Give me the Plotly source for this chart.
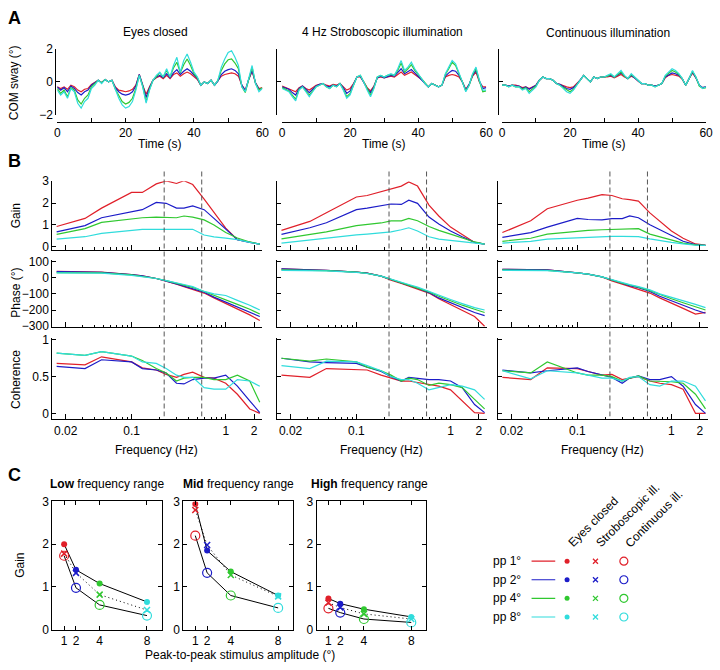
import plotly.graph_objects as go

W, H = 720, 670
FONT = "Liberation Sans, Arial, sans-serif"
FS = 12

# ======================= DATA =======================
amplitude_labels = ["pp 1°", "pp 2°", "pp 4°", "pp 8°"]
amplitude_deg = [1, 2, 4, 8]
condition_titles = ["Eyes closed", "4 Hz Stroboscopic illumination", "Continuous illumination"]
condition_short = ["Eyes closed", "Stroboscopic ill.", "Continuous ill."]
range_titles = ["<b>Low</b> frequency range", "<b>Mid</b> frequency range", "<b>High</b> frequency range"]

# ---- Panel A: COM sway (deg) sampled every second, 0..60 s ----
time_s = list(range(61))

sway_ec_pp1 = [-0.3, -0.4, -0.3, -0.45, -0.2, -0.3, -0.5, -0.6, -0.45, -0.4,
               -0.15, 0.0, 0.1, -0.05, 0.15, 0.0, 0.1, -0.3, -0.5, -0.55,
               -0.6, -0.55, -0.45, -0.2, 0.45, -0.2, -0.75, -0.3, 0.1, 0.25,
               0.35, 0.2, 0.4, 0.2, 0.45, 0.55, 0.35, 0.5, 0.6, 0.5,
               0.3, 0.15, -0.2, 0.0, -0.1, 0.1, -0.2, 0.05, 0.35, 0.45,
               0.5, 0.55, 0.5, 0.35, -0.2, -0.5, 0.15, 0.65, -0.05, -0.4,
               -0.35]
sway_ec_pp2 = [-0.3, -0.5, -0.35, -0.6, -0.25, -0.4, -0.65, -0.8, -0.6, -0.5,
               -0.2, -0.05, 0.1, -0.05, 0.15, 0.0, 0.1, -0.35, -0.6, -0.75,
               -0.8, -0.75, -0.6, -0.25, 0.45, -0.2, -0.95, -0.35, 0.1, 0.3,
               0.4, 0.25, 0.5, 0.25, 0.55, 0.75, 0.45, 0.65, 0.8, 0.65,
               0.4, 0.2, -0.2, 0.0, -0.1, 0.1, -0.2, 0.05, 0.45, 0.65,
               0.75, 0.8, 0.7, 0.5, -0.2, -0.55, 0.15, 0.7, -0.05, -0.45,
               -0.4]
sway_ec_pp4 = [-0.4, -0.7, -0.5, -0.9, -0.35, -0.5, -1.1, -1.35, -1.0, -0.8,
               -0.3, -0.1, 0.1, -0.05, 0.15, 0.0, 0.1, -0.45, -0.85, -1.2,
               -1.35, -1.25, -1.0, -0.4, 0.4, -0.25, -1.2, -0.45, 0.1, 0.35,
               0.55, 0.3, 0.7, 0.3, 0.85, 1.2, 0.55, 1.05, 1.4, 1.0,
               0.5, 0.25, -0.2, 0.0, -0.1, 0.1, -0.2, 0.1, 0.7, 1.1,
               1.35, 1.4, 1.15, 0.8, -0.3, -0.65, 0.15, 0.9, -0.1, -0.5,
               -0.35]
sway_ec_pp8 = [-0.5, -0.8, -0.6, -1.0, -0.4, -0.6, -1.3, -1.6, -1.2, -1.0,
               -0.4, -0.2, 0.1, -0.1, 0.15, 0.0, 0.1, -0.5, -1.0, -1.4,
               -1.6, -1.5, -1.2, -0.5, 0.4, -0.3, -1.3, -0.5, 0.1, 0.4,
               0.6, 0.3, 0.8, 0.3, 1.0, 1.5, 0.6, 1.3, 1.7, 1.2,
               0.6, 0.3, -0.2, 0.0, -0.1, 0.1, -0.2, 0.1, 0.9, 1.4,
               1.8, 1.9, 1.5, 1.0, -0.3, -0.6, 0.2, 1.0, -0.1, -0.6,
               -0.4]

sway_st_pp1 = [-0.25, -0.35, -0.4, -0.5, -0.6, -0.35, -0.25, -0.4, -0.5, -0.35,
               -0.2, -0.15, -0.1, -0.2, -0.25, -0.15, -0.2, -0.1, -0.3, -0.5,
               -0.4, -0.1, 0.3, 0.3, 0.0, -0.35, -0.55, -0.25, 0.25, 0.3,
               0.25, 0.3, 0.35, 0.3, 0.45, 0.6, 0.4, 0.5, 0.6, 0.45,
               0.3, 0.15, -0.1, -0.3, -0.1, -0.2, -0.3, -0.2, 0.3, 0.4,
               0.45, 0.4, 0.3, 0.0, -0.45, -0.15, 0.35, 0.6, 0.0, -0.3,
               -0.3]
sway_st_pp2 = [-0.3, -0.4, -0.45, -0.65, -0.8, -0.4, -0.25, -0.45, -0.65, -0.45,
               -0.25, -0.15, -0.1, -0.25, -0.3, -0.2, -0.25, -0.1, -0.35, -0.7,
               -0.55, -0.15, 0.3, 0.35, 0.0, -0.4, -0.65, -0.3, 0.25, 0.35,
               0.25, 0.35, 0.4, 0.35, 0.55, 0.8, 0.5, 0.6, 0.75, 0.55,
               0.35, 0.15, -0.1, -0.3, -0.1, -0.2, -0.3, -0.2, 0.35, 0.55,
               0.7, 0.65, 0.4, 0.0, -0.5, -0.15, 0.4, 0.7, 0.05, -0.4,
               -0.35]
sway_st_pp4 = [-0.35, -0.45, -0.55, -0.8, -1.05, -0.45, -0.3, -0.55, -0.8, -0.55,
               -0.3, -0.2, -0.1, -0.3, -0.4, -0.2, -0.3, -0.1, -0.45, -0.9,
               -0.7, -0.2, 0.3, 0.4, 0.0, -0.45, -0.8, -0.35, 0.3, 0.4,
               0.3, 0.4, 0.45, 0.4, 0.7, 1.15, 0.6, 0.8, 1.05, 0.7,
               0.45, 0.2, -0.1, -0.3, -0.1, -0.2, -0.3, -0.2, 0.45, 0.8,
               1.2, 1.0, 0.55, 0.0, -0.55, -0.2, 0.45, 0.8, 0.05, -0.6,
               -0.55]
sway_st_pp8 = [-0.4, -0.5, -0.6, -0.9, -1.15, -0.5, -0.3, -0.6, -0.9, -0.6,
               -0.3, -0.2, -0.1, -0.3, -0.4, -0.2, -0.3, -0.1, -0.5, -1.0,
               -0.8, -0.2, 0.3, 0.4, 0.0, -0.5, -0.9, -0.4, 0.3, 0.4,
               0.3, 0.4, 0.5, 0.4, 0.8, 1.3, 0.7, 0.9, 1.2, 0.8,
               0.5, 0.2, -0.1, -0.3, -0.1, -0.2, -0.3, -0.2, 0.5, 0.9,
               1.3, 1.1, 0.6, 0.0, -0.6, -0.2, 0.5, 0.9, 0.1, -0.5,
               -0.5]

sway_ci_pp1 = [-0.2, -0.2, -0.25, -0.2, -0.2, -0.25, -0.35, -0.3, -0.4, -0.3,
               -0.2, 0.1, 0.3, 0.2, 0.2, 0.1, -0.1, -0.15, -0.25, -0.3,
               -0.35, -0.3, -0.1, 0.1, 0.4, 0.2, 0.0, 0.3, 0.2, 0.3,
               0.3, 0.3, 0.35, 0.25, 0.35, 0.45, 0.3, 0.2, 0.35, 0.25,
               0.05, -0.1, -0.1, -0.2, -0.2, -0.25, -0.2, -0.1, 0.25, 0.4,
               0.45, 0.4, 0.35, 0.15, -0.2, 0.2, 0.55, 0.25, -0.2, -0.35,
               -0.3]
sway_ci_pp2 = [-0.2, -0.2, -0.25, -0.2, -0.25, -0.25, -0.4, -0.3, -0.45, -0.35,
               -0.2, 0.1, 0.3, 0.2, 0.2, 0.1, -0.1, -0.15, -0.3, -0.4,
               -0.45, -0.35, -0.15, 0.1, 0.4, 0.2, 0.0, 0.3, 0.2, 0.3,
               0.3, 0.35, 0.4, 0.3, 0.4, 0.55, 0.35, 0.2, 0.4, 0.25,
               0.1, -0.1, -0.1, -0.2, -0.2, -0.25, -0.2, -0.1, 0.3, 0.45,
               0.55, 0.5, 0.4, 0.2, -0.2, 0.2, 0.6, 0.25, -0.2, -0.35,
               -0.3]
sway_ci_pp4 = [-0.2, -0.2, -0.3, -0.2, -0.3, -0.3, -0.45, -0.35, -0.6, -0.45,
               -0.25, 0.1, 0.3, 0.2, 0.2, 0.1, -0.1, -0.2, -0.35, -0.5,
               -0.6, -0.45, -0.2, 0.1, 0.4, 0.2, 0.0, 0.3, 0.2, 0.3,
               0.3, 0.35, 0.45, 0.3, 0.45, 0.6, 0.35, 0.2, 0.45, 0.3,
               0.1, -0.1, -0.1, -0.2, -0.2, -0.3, -0.2, -0.1, 0.35, 0.55,
               0.7, 0.6, 0.45, 0.2, -0.2, 0.2, 0.65, 0.3, -0.25, -0.4,
               -0.35]
sway_ci_pp8 = [-0.2, -0.2, -0.3, -0.2, -0.3, -0.3, -0.5, -0.4, -0.7, -0.5,
               -0.3, 0.1, 0.3, 0.2, 0.2, 0.1, -0.1, -0.2, -0.4, -0.6,
               -0.7, -0.5, -0.2, 0.1, 0.4, 0.2, 0.0, 0.3, 0.2, 0.3,
               0.3, 0.4, 0.5, 0.3, 0.5, 0.7, 0.4, 0.2, 0.5, 0.3,
               0.1, -0.1, -0.1, -0.2, -0.2, -0.3, -0.2, -0.1, 0.4, 0.6,
               0.8, 0.7, 0.5, 0.2, -0.2, 0.2, 0.7, 0.3, -0.2, -0.4,
               -0.3]

# ---- Panel B: frequency response ----
freq_hz = [0.016, 0.032, 0.048, 0.1, 0.13, 0.183, 0.233, 0.3, 0.36, 0.446,
           0.59, 0.75, 1.0, 1.33, 1.8, 2.3]
freq_range_bounds_hz = [0.222, 0.556]

gain_ec_pp1 = [0.93, 1.30, 1.77, 2.49, 2.49, 2.88, 3.02, 2.90, 3.03, 2.85, 2.18, 1.55, 0.85, 0.32, 0.20, 0.12]
gain_ec_pp2 = [0.68, 0.97, 1.33, 1.59, 1.70, 2.03, 1.99, 1.77, 1.77, 1.87, 1.70, 1.30, 0.80, 0.32, 0.20, 0.12]
gain_ec_pp4 = [0.57, 0.83, 1.12, 1.29, 1.33, 1.36, 1.33, 1.33, 1.41, 1.36, 1.23, 1.00, 0.65, 0.40, 0.22, 0.12]
gain_ec_pp8 = [0.35, 0.46, 0.61, 0.75, 0.80, 0.80, 0.80, 0.80, 0.80, 0.80, 0.54, 0.45, 0.40, 0.33, 0.20, 0.12]
gain_st_pp1 = [0.75, 1.16, 1.56, 2.28, 2.35, 2.54, 2.64, 2.78, 2.97, 2.78, 1.91, 1.41, 0.90, 0.54, 0.20, 0.12]
gain_st_pp2 = [0.57, 0.87, 1.10, 1.70, 1.77, 1.87, 1.96, 1.94, 2.13, 1.99, 1.36, 1.04, 0.72, 0.46, 0.20, 0.12]
gain_st_pp4 = [0.36, 0.54, 0.68, 0.97, 1.01, 1.09, 1.19, 1.19, 1.30, 1.19, 0.93, 0.75, 0.58, 0.39, 0.22, 0.12]
gain_st_pp8 = [0.17, 0.32, 0.39, 0.54, 0.58, 0.64, 0.68, 0.78, 0.87, 0.72, 0.46, 0.35, 0.29, 0.25, 0.18, 0.12]
gain_ci_pp1 = [0.65, 1.19, 1.74, 2.13, 2.23, 2.39, 2.35, 2.20, 2.16, 2.09, 1.55, 1.19, 0.72, 0.39, 0.13, 0.08]
gain_ci_pp2 = [0.43, 0.65, 0.90, 1.30, 1.25, 1.23, 1.29, 1.29, 1.41, 1.33, 1.01, 0.78, 0.51, 0.25, 0.10, 0.07]
gain_ci_pp4 = [0.25, 0.39, 0.58, 0.72, 0.75, 0.78, 0.80, 0.80, 0.81, 0.83, 0.58, 0.46, 0.32, 0.17, 0.09, 0.07]
gain_ci_pp8 = [0.17, 0.25, 0.35, 0.42, 0.45, 0.46, 0.48, 0.48, 0.48, 0.46, 0.36, 0.28, 0.20, 0.13, 0.07, 0.06]

phase_ec_pp1 = [40, 37, 34, 20, 12, -5, -20, -40, -55, -72, -95, -125, -160, -195, -230, -265]
phase_ec_pp2 = [38, 36, 33, 20, 12, -5, -20, -38, -52, -68, -90, -120, -150, -180, -210, -240]
phase_ec_pp4 = [32, 32, 30, 18, 10, -5, -18, -33, -45, -60, -85, -110, -135, -165, -195, -225]
phase_ec_pp8 = [30, 30, 28, 15, 8, -5, -18, -30, -42, -55, -85, -100, -110, -140, -170, -200]
phase_st_pp1 = [55, 50, 46, 35, 28, 10, -15, -35, -50, -68, -95, -130, -165, -200, -240, -300]
phase_st_pp2 = [55, 50, 46, 35, 28, 10, -12, -32, -48, -65, -92, -125, -155, -185, -215, -235]
phase_st_pp4 = [48, 46, 44, 34, 27, 10, -10, -30, -45, -62, -88, -115, -145, -170, -195, -215]
phase_st_pp8 = [45, 44, 42, 33, 26, 10, -10, -28, -42, -58, -85, -110, -135, -160, -185, -200]
phase_ci_pp1 = [52, 50, 48, 30, 22, 5, -20, -40, -55, -70, -95, -125, -160, -190, -225, -215]
phase_ci_pp2 = [52, 50, 48, 30, 22, 5, -15, -35, -50, -62, -85, -115, -145, -170, -200, -220]
phase_ci_pp4 = [48, 47, 46, 30, 22, 5, -15, -33, -45, -58, -80, -105, -130, -155, -180, -200]
phase_ci_pp8 = [46, 45, 44, 30, 22, 5, -13, -30, -43, -55, -75, -100, -120, -140, -165, -185]

coh_ec_pp1 = [0.68, 0.66, 0.77, 0.70, 0.62, 0.59, 0.53, 0.49, 0.53, 0.56, 0.49, 0.48, 0.41, 0.26, 0.06, 0.00]
coh_ec_pp2 = [0.64, 0.61, 0.73, 0.70, 0.61, 0.59, 0.55, 0.41, 0.40, 0.46, 0.48, 0.48, 0.52, 0.37, 0.17, 0.01]
coh_ec_pp4 = [0.82, 0.79, 0.84, 0.78, 0.72, 0.61, 0.55, 0.44, 0.48, 0.49, 0.49, 0.46, 0.46, 0.52, 0.44, 0.15]
coh_ec_pp8 = [0.82, 0.79, 0.84, 0.78, 0.70, 0.68, 0.61, 0.52, 0.49, 0.49, 0.35, 0.33, 0.33, 0.46, 0.44, 0.37]
coh_st_pp1 = [0.52, 0.49, 0.61, 0.59, 0.59, 0.52, 0.48, 0.44, 0.44, 0.42, 0.40, 0.37, 0.32, 0.17, 0.01, 0.00]
coh_st_pp2 = [0.75, 0.70, 0.69, 0.68, 0.63, 0.57, 0.50, 0.44, 0.49, 0.48, 0.46, 0.46, 0.44, 0.35, 0.12, 0.01]
coh_st_pp4 = [0.75, 0.71, 0.74, 0.70, 0.63, 0.58, 0.52, 0.44, 0.48, 0.46, 0.38, 0.41, 0.39, 0.35, 0.19, 0.06]
coh_st_pp8 = [0.65, 0.61, 0.71, 0.70, 0.65, 0.58, 0.50, 0.46, 0.46, 0.41, 0.32, 0.35, 0.39, 0.37, 0.32, 0.19]
coh_ci_pp1 = [0.49, 0.46, 0.62, 0.61, 0.57, 0.52, 0.53, 0.46, 0.48, 0.50, 0.44, 0.41, 0.39, 0.33, 0.00, 0.00]
coh_ci_pp2 = [0.59, 0.55, 0.58, 0.62, 0.57, 0.52, 0.49, 0.41, 0.48, 0.51, 0.46, 0.46, 0.50, 0.37, 0.12, 0.00]
coh_ci_pp4 = [0.58, 0.55, 0.70, 0.55, 0.52, 0.52, 0.50, 0.44, 0.48, 0.51, 0.44, 0.44, 0.43, 0.41, 0.26, 0.06]
coh_ci_pp8 = [0.58, 0.47, 0.58, 0.55, 0.52, 0.48, 0.48, 0.44, 0.49, 0.50, 0.39, 0.37, 0.44, 0.44, 0.37, 0.17]

# ---- Panel C: range-averaged gain vs stimulus amplitude ----
low_gain_ec = [2.00, 1.40, 1.08, 0.65]
low_gain_st = [1.78, 1.33, 0.82, 0.46]
low_gain_ci = [1.73, 0.98, 0.58, 0.33]
mid_gain_ec = [2.94, 1.85, 1.36, 0.80]
mid_gain_st = [2.80, 1.98, 1.28, 0.78]
mid_gain_ci = [2.20, 1.33, 0.80, 0.51]
high_gain_ec = [0.73, 0.61, 0.48, 0.30]
high_gain_st = [0.63, 0.52, 0.37, 0.25]
high_gain_ci = [0.50, 0.40, 0.25, 0.17]

# ======================= STYLE / LAYOUT =======================
COLORS = ["#e0202a", "#1c1cc8", "#30c830", "#30dcdc"]


def px(x):
    return x / W


def py(y):
    return 1 - y / H


fig = go.Figure()
layout = dict(width=W, height=H, margin=dict(l=0, r=0, t=0, b=0),
              paper_bgcolor="white", plot_bgcolor="white", showlegend=False,
              font=dict(family=FONT, size=FS, color="black"))
annotations = []
shapes = []
axis_n = [0]

BASE_AX = dict(showline=True, linecolor="black", linewidth=1, ticks="inside",
               tickcolor="black", ticklen=4, tickwidth=1, showgrid=False,
               zeroline=False, tickfont=dict(family=FONT, size=FS, color="black"))


def new_axes(xdom_px, ydom_px, xopts, yopts):
    axis_n[0] += 1
    n = axis_n[0]
    xs = "" if n == 1 else str(n)
    xa = dict(BASE_AX)
    ya = dict(BASE_AX)
    xa.update(domain=[px(xdom_px[0]), px(xdom_px[1])], anchor="y" + xs)
    ya.update(domain=[py(ydom_px[1]), py(ydom_px[0])], anchor="x" + xs)
    xa.update(xopts)
    ya.update(yopts)
    layout["xaxis" + xs] = xa
    layout["yaxis" + xs] = ya
    return "x" + xs, "y" + xs


def text(x, y, s, size=FS, angle=0, xanchor="center", yanchor="middle", xref="paper", yref="paper"):
    annotations.append(dict(x=x, y=y, xref=xref, yref=yref, text=s, showarrow=False,
                            textangle=angle, xanchor=xanchor, yanchor=yanchor,
                            font=dict(family=FONT, size=size, color="black")))


# ---------------- Panel A ----------------
sway_sets = [
    [sway_ec_pp1, sway_ec_pp2, sway_ec_pp4, sway_ec_pp8],
    [sway_st_pp1, sway_st_pp2, sway_st_pp4, sway_st_pp8],
    [sway_ci_pp1, sway_ci_pp2, sway_ci_pp4, sway_ci_pp8],
]
A_xl = [55, 283, 506]
A_xr = [263, 490, 713]
A_yaxis_pos = [53, 277, 502]
for c in range(3):
    xr, yr = new_axes((A_xl[c], A_xr[c]), (43, 110),
                      dict(range=[0, 60], anchor="free", position=py(117),
                           tickvals=[0, 10, 20, 30, 40, 50, 60],
                           ticktext=["0", "", "20", "", "40", "", "60"]),
                      dict(range=[-2, 2], anchor="free", position=px(A_yaxis_pos[c]),
                           tickvals=[-2, 0, 2], showticklabels=(c == 0)))
    for i in range(4):
        y = sway_sets[c][i]
        fig.add_trace(go.Scatter(x=time_s[:len(y)], y=y, mode="lines", xaxis=xr, yaxis=yr,
                                 line=dict(color=COLORS[i], width=1.2)))
    text(px((A_xl[c] + A_xr[c]) / 2), py(140), "Time (s)")
text(px(155), py(26), condition_titles[0])
text(px(385), py(26), condition_titles[1])
text(px(614), py(27), condition_titles[2])
text(px(12), py(77), "COM sway (°)", angle=-90)

# ---------------- Panel B ----------------
gain_sets = [[gain_ec_pp1, gain_ec_pp2, gain_ec_pp4, gain_ec_pp8],
             [gain_st_pp1, gain_st_pp2, gain_st_pp4, gain_st_pp8],
             [gain_ci_pp1, gain_ci_pp2, gain_ci_pp4, gain_ci_pp8]]
phase_sets = [[phase_ec_pp1, phase_ec_pp2, phase_ec_pp4, phase_ec_pp8],
              [phase_st_pp1, phase_st_pp2, phase_st_pp4, phase_st_pp8],
              [phase_ci_pp1, phase_ci_pp2, phase_ci_pp4, phase_ci_pp8]]
coh_sets = [[coh_ec_pp1, coh_ec_pp2, coh_ec_pp4, coh_ec_pp8],
            [coh_st_pp1, coh_st_pp2, coh_st_pp4, coh_st_pp8],
            [coh_ci_pp1, coh_ci_pp2, coh_ci_pp4, coh_ci_pp8]]
B_xl = [50, 278, 502]
B_w = 213
rows = [
    dict(dom=(178, 248), rng=[-0.14, 3], tv=[0, 1, 2, 3], sets=gain_sets),
    dict(dom=(258, 327), rng=[-306, 112], tv=[-300, -200, -100, 0, 100], sets=phase_sets),
    dict(dom=(338, 421), rng=[-0.08, 1.027], tv=[0, 0.5, 1], sets=coh_sets),
]
minor_vals = [0.02, 0.03, 0.04, 0.05, 0.06, 0.07, 0.08, 0.09,
              0.2, 0.3, 0.4, 0.5, 0.6, 0.7, 0.8, 0.9, 2]
for c in range(3):
    col_xref = None
    for r, row in enumerate(rows):
        xr, yr = new_axes((B_xl[c], B_xl[c] + B_w), row["dom"],
                          dict(type="log", range=[-1.842, 0.389],
                               tickvals=[0.02, 0.1, 1, 2], ticktext=["0.02", "0.1", "1", "2"],
                               ticklen=5, showticklabels=(r == 2),
                               minor=dict(tickmode="array", tickvals=minor_vals, ticks="inside",
                                          ticklen=2.5, tickcolor="black")),
                          dict(range=row["rng"], tickvals=row["tv"], showticklabels=(c == 0)))
        if col_xref is None:
            col_xref = xr
        for i in range(4):
            fig.add_trace(go.Scatter(x=freq_hz, y=row["sets"][c][i], mode="lines",
                                     xaxis=xr, yaxis=yr,
                                     line=dict(color=COLORS[i], width=1.2)))
    for f in freq_range_bounds_hz:
        shapes.append(dict(type="line", xref=col_xref, yref="paper", x0=f, x1=f,
                           y0=py(168), y1=py(418),
                           line=dict(color="#555555", width=1, dash="5px,3px")))
    text(px(B_xl[c] + B_w / 2 - 1), py(452), "Frequency (Hz)")
text(px(13), py(213), "Gain", angle=-90)
text(px(13), py(292), "Phase (°)", angle=-90)
text(px(13), py(380), "Coherence", angle=-90)

# ---------------- Panel C ----------------
c_sets = [(low_gain_ec, low_gain_st, low_gain_ci),
          (mid_gain_ec, mid_gain_st, mid_gain_ci),
          (high_gain_ec, high_gain_st, high_gain_ci)]
C_xl = [50, 183, 318]
C_w = 111
C_title_x = [105, 239, 372]
for k in range(3):
    xr, yr = new_axes((C_xl[k], C_xl[k] + C_w), (505, 636),
                      dict(range=[0, 9.25], tickvals=amplitude_deg, mirror="allticks"),
                      dict(range=[0, 3], tickvals=[0, 1, 2, 3], mirror="allticks"))
    ec, st, ci = c_sets[k]
    fig.add_trace(go.Scatter(x=amplitude_deg, y=ec, mode="lines", xaxis=xr, yaxis=yr,
                             line=dict(color="black", width=1)))
    fig.add_trace(go.Scatter(x=amplitude_deg, y=ci, mode="lines", xaxis=xr, yaxis=yr,
                             line=dict(color="black", width=1)))
    fig.add_trace(go.Scatter(x=amplitude_deg, y=st, mode="lines", xaxis=xr, yaxis=yr,
                             line=dict(color="black", width=1, dash="1px,3px")))
    fig.add_trace(go.Scatter(x=amplitude_deg, y=ci, mode="markers", xaxis=xr, yaxis=yr,
                             marker=dict(symbol="circle-open", size=9, color=COLORS,
                                         line=dict(width=1.2, color=COLORS))))
    fig.add_trace(go.Scatter(x=amplitude_deg, y=st, mode="markers", xaxis=xr, yaxis=yr,
                             marker=dict(symbol="x-thin", size=6, color=COLORS,
                                         line=dict(width=1.5, color=COLORS))))
    fig.add_trace(go.Scatter(x=amplitude_deg, y=ec, mode="markers", xaxis=xr, yaxis=yr,
                             marker=dict(symbol="circle", size=6, color=COLORS)))
    text(px(C_title_x[k]), py(487), range_titles[k])
text(px(17), py(570), "Gain", angle=-90)
text(px(240), py(662), "Peak-to-peak stimulus amplitude (°)")

# ---------------- Legend (custom grid on a hidden axis) ----------------
LEG_COLS = [1.5, 2.7, 3.9]
xr, yr = new_axes((490, 700), (480, 640),
                  dict(range=[-1.917, 6.833], visible=False),
                  dict(range=[4.895, -3.526], visible=False))
rows_y = [1, 2, 3, 4]
for i in range(4):
    fig.add_trace(go.Scatter(x=[0, 1], y=[rows_y[i], rows_y[i]], mode="lines", xaxis=xr, yaxis=yr,
                             line=dict(color=COLORS[i], width=1.2)))
    fig.add_trace(go.Scatter(x=[LEG_COLS[0]], y=[rows_y[i]], mode="markers", xaxis=xr, yaxis=yr,
                             marker=dict(symbol="circle", size=5, color=COLORS[i])))
    fig.add_trace(go.Scatter(x=[LEG_COLS[1]], y=[rows_y[i]], mode="markers", xaxis=xr, yaxis=yr,
                             marker=dict(symbol="x-thin", size=5, color=COLORS[i],
                                         line=dict(width=1.3, color=COLORS[i]))))
    fig.add_trace(go.Scatter(x=[LEG_COLS[2]], y=[rows_y[i]], mode="markers", xaxis=xr, yaxis=yr,
                             marker=dict(symbol="circle-open", size=8, color=COLORS[i],
                                         line=dict(width=1.2, color=COLORS[i]))))
    text(-0.35, rows_y[i], amplitude_labels[i], xanchor="right", xref=xr, yref=yr)
for j in range(3):
    text(LEG_COLS[j] - 0.2, 0.55, condition_short[j], angle=-45, xanchor="left",
         yanchor="bottom", xref=xr, yref=yr)

# ---------------- Panel letters ----------------
text(px(3), py(11), "<b>A</b>", size=18, xanchor="left")
text(px(3), py(157), "<b>B</b>", size=18, xanchor="left")
text(px(3), py(478), "<b>C</b>", size=18, xanchor="left")

layout["annotations"] = annotations
layout["shapes"] = shapes
fig.update_layout(**layout)
fig.write_html("out.html", config={"displayModeBar": False},
               post_script="document.body.style.margin='0';document.body.style.overflow='hidden';")
